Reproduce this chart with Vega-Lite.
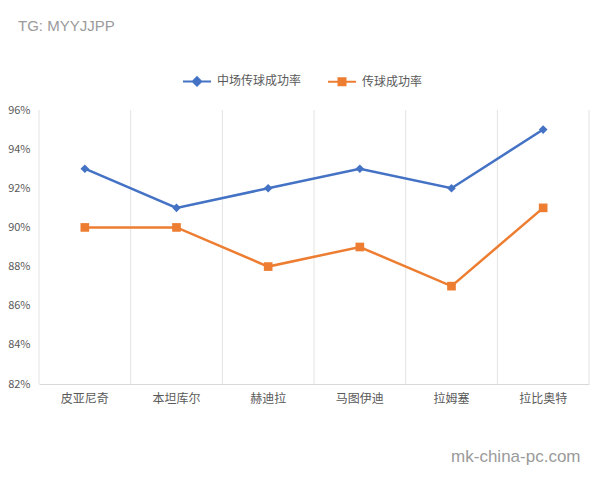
{
  "$schema": "https://vega.github.io/schema/vega-lite/v6.json",
  "width": 550,
  "height": 274,
  "autosize": {"type": "none"},
  "padding": {"left": 39, "top": 110, "right": 11, "bottom": 96},
  "background": "white",
  "config": {
    "view": {"stroke": null},
    "font": "Noto Sans CJK SC",
    "axisY": {"labelOverlap": false}
  },
  "title": {
    "text": "TG: MYYJJPP",
    "anchor": "start",
    "frame": "group",
    "dx": -21,
    "offset": 32,
    "fontSize": 15,
    "fontWeight": "normal",
    "font": "Liberation Sans",
    "color": "#9a9a9a"
  },
  "datasets": {
    "rates": [
      {"player": "皮亚尼奇", "series": "中场传球成功率", "value": 0.93},
      {"player": "本坦库尔", "series": "中场传球成功率", "value": 0.91},
      {"player": "赫迪拉", "series": "中场传球成功率", "value": 0.92},
      {"player": "马图伊迪", "series": "中场传球成功率", "value": 0.93},
      {"player": "拉姆塞", "series": "中场传球成功率", "value": 0.92},
      {"player": "拉比奥特", "series": "中场传球成功率", "value": 0.95},
      {"player": "皮亚尼奇", "series": "传球成功率", "value": 0.90},
      {"player": "本坦库尔", "series": "传球成功率", "value": 0.90},
      {"player": "赫迪拉", "series": "传球成功率", "value": 0.88},
      {"player": "马图伊迪", "series": "传球成功率", "value": 0.89},
      {"player": "拉姆塞", "series": "传球成功率", "value": 0.87},
      {"player": "拉比奥特", "series": "传球成功率", "value": 0.91}
    ],
    "players": [
      {"player": "皮亚尼奇"},
      {"player": "本坦库尔"},
      {"player": "赫迪拉"},
      {"player": "马图伊迪"},
      {"player": "拉姆塞"},
      {"player": "拉比奥特"}
    ],
    "last": [
      {"player": "拉比奥特"}
    ]
  },
  "encoding": {
    "x": {
      "field": "player",
      "type": "nominal",
      "scale": {
        "type": "band",
        "domain": ["皮亚尼奇", "本坦库尔", "赫迪拉", "马图伊迪", "拉姆塞", "拉比奥特"],
        "paddingInner": 0,
        "paddingOuter": 0
      },
      "axis": {
        "title": "mk-china-pc.com",
        "titleAnchor": "end",
        "titleAlign": "right",
        "titleX": 541,
        "titleFontSize": 17,
        "titleFont": "Liberation Sans",
        "titleFontWeight": "normal",
        "titleColor": "#9a9a9a",
        "titlePadding": 44,
        "labelAngle": 0,
        "labelFontSize": 12,
        "labelColor": "#595959",
        "labelPadding": 9,
        "ticks": false,
        "grid": false,
        "domainColor": "#d9d9d9",
        "domainWidth": 1
      }
    }
  },
  "layer": [
    {
      "data": {"name": "players"},
      "mark": {"type": "rule", "color": "#e3e3e3", "strokeWidth": 1},
      "encoding": {
        "x": {"field": "player", "type": "nominal", "bandPosition": 0}
      }
    },
    {
      "data": {"name": "last"},
      "mark": {"type": "rule", "color": "#e3e3e3", "strokeWidth": 1},
      "encoding": {
        "x": {"field": "player", "type": "nominal", "bandPosition": 1}
      }
    },
    {
      "data": {"name": "rates"},
      "mark": {"type": "line", "strokeWidth": 2.5},
      "encoding": {
        "x": {"field": "player", "type": "nominal", "bandPosition": 0.5},
        "y": {
          "field": "value",
          "type": "quantitative",
          "scale": {"domain": [0.82, 0.96], "nice": false, "zero": false},
          "axis": {
            "title": null,
            "values": [0.82, 0.84, 0.86, 0.88, 0.90, 0.92, 0.94, 0.96],
            "format": ".0%",
            "labelFontSize": 11,
            "labelColor": "#595959",
            "labelPadding": 9,
            "labelOverlap": false,
            "labelBound": false,
            "ticks": false,
            "domain": false,
            "grid": false
          }
        },
        "color": {
          "field": "series",
          "type": "nominal",
          "scale": {"domain": ["中场传球成功率", "传球成功率"], "range": ["#4472C4", "#ED7D31"]},
          "legend": {
            "title": null,
            "orient": "none",
            "direction": "horizontal",
            "legendX": 143,
            "legendY": -44,
            "labelFontSize": 12,
            "labelColor": "#595959",
            "labelOffset": 5,
            "columnPadding": 22,
            "symbolSize": 784,
            "symbolStrokeWidth": 2,
            "encode": {
              "symbols": {
                "update": {
                  "shape": {"signal": "datum.value == '中场传球成功率' ? 'M-1,0H1M0,-0.3L0.3,0L0,0.3L-0.3,0Z' : 'M-1,0H1M-0.25,-0.25H0.25V0.25H-0.25Z'"},
                  "fill": {"signal": "datum.value == '中场传球成功率' ? '#4472C4' : '#ED7D31'"},
                  "stroke": {"signal": "datum.value == '中场传球成功率' ? '#4472C4' : '#ED7D31'"},
                  "strokeWidth": {"value": 2}
                }
              }
            }
          }
        }
      }
    },
    {
      "data": {"name": "rates"},
      "transform": [{"filter": "datum.series == '中场传球成功率'"}],
      "mark": {"type": "point", "filled": true, "opacity": 1, "shape": "diamond", "size": 75},
      "encoding": {
        "x": {"field": "player", "type": "nominal", "bandPosition": 0.5},
        "y": {
          "field": "value",
          "type": "quantitative",
          "axis": {
            "title": null,
            "values": [0.82, 0.84, 0.86, 0.88, 0.90, 0.92, 0.94, 0.96],
            "format": ".0%",
            "labelFontSize": 11,
            "labelColor": "#595959",
            "labelPadding": 9,
            "labelOverlap": false,
            "labelBound": false,
            "ticks": false,
            "domain": false,
            "grid": false
          }
        },
        "color": {"field": "series", "type": "nominal"}
      }
    },
    {
      "data": {"name": "rates"},
      "transform": [{"filter": "datum.series == '传球成功率'"}],
      "mark": {"type": "point", "filled": true, "opacity": 1, "shape": "square", "size": 75},
      "encoding": {
        "x": {"field": "player", "type": "nominal", "bandPosition": 0.5},
        "y": {
          "field": "value",
          "type": "quantitative",
          "axis": {
            "title": null,
            "values": [0.82, 0.84, 0.86, 0.88, 0.90, 0.92, 0.94, 0.96],
            "format": ".0%",
            "labelFontSize": 11,
            "labelColor": "#595959",
            "labelPadding": 9,
            "labelOverlap": false,
            "labelBound": false,
            "ticks": false,
            "domain": false,
            "grid": false
          }
        },
        "color": {"field": "series", "type": "nominal"}
      }
    }
  ]
}
